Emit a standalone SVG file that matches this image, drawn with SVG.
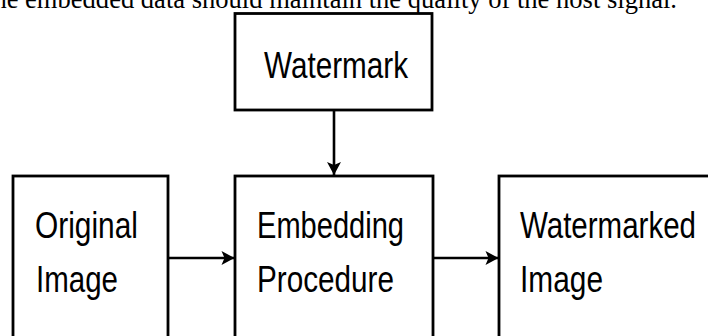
<svg xmlns="http://www.w3.org/2000/svg" width="708" height="336" viewBox="0 0 708 336">
<style>
.box{fill:#fff;stroke:#000;stroke-width:2.8}
.lbl{font-family:"Liberation Sans",Arial,sans-serif;font-size:37px;fill:#000}
.cap{font-family:"Liberation Serif","Times New Roman",serif;font-size:26.5px;fill:#000}
.conn{stroke:#000;stroke-width:2.6;fill:none}
</style>
<defs>
<marker id="ah" markerUnits="userSpaceOnUse" markerWidth="16" markerHeight="16" viewBox="0 0 16 16" refX="14" refY="8" orient="auto">
<path d="M1,1 L14,8 L1,15 L4,8 z" fill="#000"/>
</marker>
</defs>
<rect width="708" height="336" fill="#fff"/>
<text class="cap" x="-14" y="8" textLength="691" lengthAdjust="spacingAndGlyphs">the embedded data should maintain the quality of the host signal.</text>
<g id="watermark">
<rect class="box" x="235" y="13.5" width="197" height="96.5"/>
<text class="lbl" x="264" y="78" textLength="144" lengthAdjust="spacingAndGlyphs">Watermark</text>
</g>
<g id="original">
<rect class="box" x="13" y="176" width="155" height="180"/>
<text class="lbl" x="35" y="238" textLength="103" lengthAdjust="spacingAndGlyphs">Original</text>
<text class="lbl" x="36" y="292" textLength="82" lengthAdjust="spacingAndGlyphs">Image</text>
</g>
<g id="embedding">
<rect class="box" x="235" y="176" width="198" height="180"/>
<text class="lbl" x="257" y="238" textLength="147" lengthAdjust="spacingAndGlyphs">Embedding</text>
<text class="lbl" x="257" y="292" textLength="137" lengthAdjust="spacingAndGlyphs">Procedure</text>
</g>
<g id="watermarked">
<rect class="box" x="499" y="176" width="230" height="180"/>
<text class="lbl" x="520" y="238" textLength="176" lengthAdjust="spacingAndGlyphs">Watermarked</text>
<text class="lbl" x="520" y="292" textLength="83" lengthAdjust="spacingAndGlyphs">Image</text>
</g>
<g id="connectors">
<line class="conn" x1="334" y1="110" x2="334" y2="175" marker-end="url(#ah)"/>
<line class="conn" x1="168" y1="258" x2="234.5" y2="258" marker-end="url(#ah)"/>
<line class="conn" x1="433" y1="258" x2="498.5" y2="258" marker-end="url(#ah)"/>
</g>
</svg>
